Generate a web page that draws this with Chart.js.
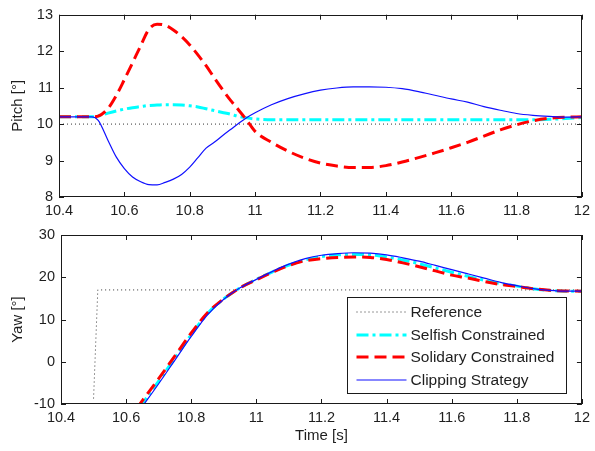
<!DOCTYPE html>
<html>
<head>
<meta charset="utf-8">
<script src="https://cdn.jsdelivr.net/npm/chart.js@4/dist/chart.umd.min.js"></script>
<style>
  html, body { margin: 0; padding: 0; background: #fff; width: 595px; height: 451px; overflow: hidden; }
  canvas { position: absolute; left: 0; }
  #pitch { top: 0; }
  #yaw { top: 220px; }
</style>
</head>
<body>
<canvas id="pitch" width="595" height="220"></canvas>
<canvas id="yaw" width="595" height="231"></canvas>
<script>
// ---- axis ticks ----
const timeTicks = [10.4, 10.6, 10.8, 11, 11.2, 11.4, 11.6, 11.8, 12];
const pitchTicks = [8, 9, 10, 11, 12, 13];
const yawTicks = [-10, 0, 10, 20, 30];

// ---- series names (legend order) ----
const seriesNames = ['Reference', 'Selfish Constrained', 'Solidary Constrained', 'Clipping Strategy'];

// ---- pitch [deg] ----
const pitchRefTime = [10.4, 12.0];
const pitchReference = [10, 10];

const pitchTime = [10.40, 10.45, 10.50, 10.52, 10.55, 10.575, 10.60, 10.625, 10.65, 10.675,
                   10.70, 10.725, 10.75, 10.775, 10.80, 10.825, 10.85, 10.875, 10.90, 10.925,
                   10.95, 10.975, 11.00, 11.05, 11.10, 11.15, 11.20, 11.25, 11.30, 11.35,
                   11.40, 11.45, 11.50, 11.55, 11.60, 11.65, 11.70, 11.75, 11.80, 11.85,
                   11.90, 11.95, 12.00];
const pitchSelfish = [10.2, 10.2, 10.2, 10.22, 10.3, 10.36, 10.41, 10.45, 10.48, 10.51,
                      10.52, 10.53, 10.53, 10.52, 10.5, 10.47, 10.42, 10.37, 10.32, 10.27,
                      10.21, 10.17, 10.14, 10.12, 10.12, 10.12, 10.12, 10.12, 10.12, 10.12,
                      10.12, 10.12, 10.12, 10.12, 10.12, 10.12, 10.12, 10.12, 10.12, 10.12,
                      10.13, 10.15, 10.18];
const pitchSolidary = [10.2, 10.2, 10.2, 10.22, 10.43, 10.78, 11.22, 11.68, 12.15, 12.6,
                       12.74, 12.71, 12.58, 12.4, 12.17, 11.9, 11.6, 11.27, 10.95, 10.65,
                       10.38, 10.1, 9.8, 9.5, 9.26, 9.07, 8.93, 8.85, 8.81, 8.81,
                       8.86, 8.96, 9.08, 9.21, 9.35, 9.5, 9.67, 9.84, 9.98, 10.09,
                       10.16, 10.19, 10.2];
const pitchClipping = [10.2, 10.2, 10.2, 10.1, 9.55, 9.1, 8.78, 8.55, 8.42, 8.34,
                       8.33, 8.4, 8.49, 8.62, 8.82, 9.08, 9.34, 9.5, 9.68, 9.85,
                       10.02, 10.18, 10.31, 10.53, 10.7, 10.83, 10.93, 10.99, 11.02, 11.02,
                       11.01, 10.97, 10.89, 10.79, 10.69, 10.6, 10.48, 10.38, 10.29, 10.24,
                       10.21, 10.19, 10.2];

// ---- yaw [deg] ----
const yawRefTime = [10.50, 10.513, 12.0];
const yawReference = [-8.7, 17, 17];

const yawTime = [10.60, 10.65, 10.70, 10.75, 10.80, 10.85, 10.90, 10.95, 11.00, 11.05,
                 11.10, 11.15, 11.20, 11.25, 11.30, 11.35, 11.40, 11.45, 11.50, 11.55,
                 11.60, 11.65, 11.70, 11.75, 11.80, 11.85, 11.90, 11.95, 12.00];
const yawSelfish = [-15.3, -9.9, -4.6, 0.9, 6.4, 11.4, 14.9, 17.5, 19.5, 21.3,
                    22.9, 24.1, 24.9, 25.3, 25.4, 25.3, 24.8, 24.1, 23.2, 22.2,
                    21.2, 20.2, 19.3, 18.5, 17.9, 17.3, 16.9, 16.7, 16.7];
const yawSolidary = [-14.5, -9.2, -4.0, 1.4, 6.8, 11.6, 14.9, 17.5, 19.4, 21.2,
                     22.8, 23.9, 24.4, 24.7, 24.8, 24.7, 24.2, 23.4, 22.5, 21.5,
                     20.5, 19.8, 19.0, 18.3, 17.8, 17.3, 16.9, 16.75, 16.7];
const yawClipping = [-16.0, -10.6, -5.2, 0.4, 6.0, 11.1, 14.8, 17.5, 19.5, 21.4,
                     23.1, 24.4, 25.2, 25.6, 25.8, 25.7, 25.3, 24.6, 23.8, 22.8,
                     21.8, 20.8, 19.8, 18.8, 18.0, 17.3, 16.9, 16.7, 16.7];

// ---- line styles, same order as seriesNames ----
const lineStyles = [
  { borderColor: '#333333', borderWidth: 1,   borderDash: [1, 3],        order: 4, cubicInterpolationMode: 'default', tension: 0 },
  { borderColor: '#00ffff', borderWidth: 3,   borderDash: [12, 4, 3, 4], order: 3, cubicInterpolationMode: 'monotone' },
  { borderColor: '#ff0000', borderWidth: 3,   borderDash: [12, 6],       order: 2, cubicInterpolationMode: 'monotone' },
  { borderColor: '#1010ff', borderWidth: 1.2, borderDash: [],            order: 1, cubicInterpolationMode: 'monotone' }
];

const TEXT = '#1e1e1e';
const FONT = 'Liberation Sans, Arial, sans-serif';

function toPoints(xs, ys) {
  return ys.map((v, i) => ({ x: xs[i], y: v }));
}

function buildDatasets(series) {
  return series.map((s, i) => Object.assign({
    label: seriesNames[i],
    data: toPoints(s[0], s[1]),
    pointRadius: 0,
    fill: false
  }, lineStyles[i]));
}

// Box around the plot area with MATLAB-style inward ticks on all four sides.
const frameTicks = {
  id: 'frameTicks',
  afterDatasetsDraw(chart) {
    const { ctx, chartArea: a, scales: { x, y } } = chart;
    const len = 5;
    ctx.save();
    ctx.strokeStyle = '#1a1a1a';
    ctx.lineWidth = 1;
    ctx.beginPath();
    x.ticks.forEach(t => {
      const px = Math.round(x.getPixelForValue(t.value)) + 0.5;
      ctx.moveTo(px, a.bottom); ctx.lineTo(px, a.bottom - len);
      ctx.moveTo(px, a.top);    ctx.lineTo(px, a.top + len);
    });
    y.ticks.forEach(t => {
      const py = Math.round(y.getPixelForValue(t.value)) + 0.5;
      ctx.moveTo(a.left, py);  ctx.lineTo(a.left + len, py);
      ctx.moveTo(a.right, py); ctx.lineTo(a.right - len, py);
    });
    ctx.stroke();
    ctx.strokeRect(Math.round(a.left) + 0.5, Math.round(a.top) + 0.5,
                   Math.round(a.width) - 1, Math.round(a.height) - 1);
    ctx.restore();
  }
};

// Legend drawn inside the lower-right corner of the yaw plot.
const legendBox = {
  id: 'legendBox',
  afterDraw(chart) {
    const { ctx, chartArea: a } = chart;
    const w = 219, h = 96;
    const left = Math.round(a.right - 16 - w) + 0.5;
    const top = Math.round(a.bottom - 11 - h) + 0.5;
    ctx.save();
    ctx.fillStyle = '#ffffff';
    ctx.fillRect(left, top, w, h);
    ctx.strokeStyle = '#1a1a1a';
    ctx.lineWidth = 1;
    ctx.strokeRect(left, top, w, h);
    ctx.font = '15.5px ' + FONT;
    ctx.textBaseline = 'middle';
    ctx.fillStyle = TEXT;
    chart.data.datasets.forEach((ds, i) => {
      const cy = Math.round(top + 14.5 + i * 22.7);
      ctx.save();
      ctx.strokeStyle = ds.borderColor;
      ctx.lineWidth = ds.borderWidth;
      ctx.setLineDash(ds.borderDash);
      ctx.beginPath();
      ctx.moveTo(left + 9, cy);
      ctx.lineTo(left + 59, cy);
      ctx.stroke();
      ctx.restore();
      ctx.fillText(ds.label, left + 63, cy + 1);
    });
    ctx.restore();
  }
};

function makeChart(id, datasets, o) {
  return new Chart(document.getElementById(id), {
    type: 'line',
    data: { datasets },
    options: {
      responsive: false,
      animation: false,
      devicePixelRatio: 1,
      layout: { autoPadding: false, padding: { top: o.padTop, right: o.padRight, left: 0, bottom: 0 } },
      plugins: { legend: { display: false }, tooltip: { enabled: false } },
      scales: {
        x: {
          type: 'linear', min: 10.4, max: 12,
          afterBuildTicks: s => { s.ticks = timeTicks.map(v => ({ value: v })); },
          afterFit: s => { s.height = o.xHeight; },
          grid: { display: false, drawTicks: false },
          border: { display: false },
          ticks: { padding: 5, color: TEXT, font: { family: FONT, size: 14.5 }, maxRotation: 0, autoSkip: false,
                   callback: v => String(+v.toFixed(1)) },
          title: o.xTitle ? { display: true, text: o.xTitle, color: TEXT, font: { family: FONT, size: 15 },
                              padding: { top: 6.5, bottom: 6.5 } } : { display: false }
        },
        y: {
          type: 'linear', min: o.yTicks[0], max: o.yTicks[o.yTicks.length - 1],
          afterBuildTicks: s => { s.ticks = o.yTicks.map(v => ({ value: v })); },
          afterFit: s => { s.width = o.yWidth; },
          grid: { display: false, drawTicks: false },
          border: { display: false },
          ticks: { padding: 6, color: TEXT, font: { family: FONT, size: 14.5 }, autoSkip: false },
          title: { display: true, text: o.yTitle, color: TEXT, font: { family: FONT, size: 15 },
                   padding: { top: o.yTitlePad, bottom: o.yTitlePad } }
        }
      }
    },
    plugins: o.plugins
  });
}

makeChart('pitch', buildDatasets([
  [pitchRefTime, pitchReference],
  [pitchTime, pitchSelfish],
  [pitchTime, pitchSolidary],
  [pitchTime, pitchClipping]
]), { padTop: 10, padRight: 6, xHeight: 23, yWidth: 59, yTicks: pitchTicks,
      yTitle: 'Pitch [°]', yTitlePad: 9, plugins: [frameTicks] });

makeChart('yaw', buildDatasets([
  [yawRefTime, yawReference],
  [yawTime, yawSelfish],
  [yawTime, yawSolidary],
  [yawTime, yawClipping]
]), { padTop: 15, padRight: 9, xHeight: 47, yWidth: 61, yTicks: yawTicks,
      yTitle: 'Yaw [°]', yTitlePad: 9, xTitle: 'Time [s]', plugins: [frameTicks, legendBox] });
</script>
</body>
</html>
